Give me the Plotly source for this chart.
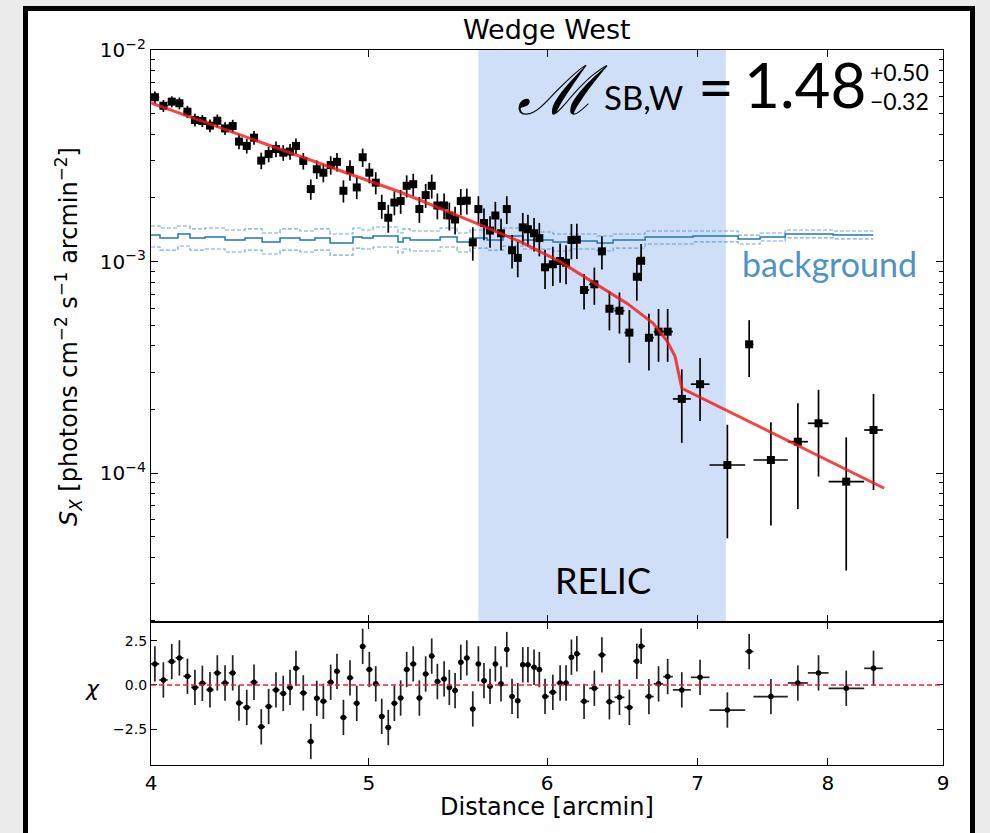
import math
import plotly.graph_objects as go

# ---------------------------------------------------------------- data
# radial distance of each bin centre [arcmin]
distance = [
    4.016, 4.051, 4.086, 4.118, 4.152, 4.184, 4.216, 4.249, 4.281, 4.315,
    4.349, 4.377, 4.412, 4.445, 4.478, 4.512, 4.546, 4.580, 4.612, 4.640,
    4.675, 4.711, 4.740, 4.772, 4.808, 4.839, 4.871, 4.904, 4.938, 4.968,
    5.002, 5.035, 5.066, 5.100, 5.132, 5.165, 5.197, 5.232, 5.265, 5.299,
    5.332, 5.363, 5.400, 5.429, 5.461, 5.493, 5.527, 5.561, 5.593, 5.625,
    5.660, 5.691, 5.724, 5.758, 5.789, 5.823, 5.853, 5.884, 5.921, 5.953,
    5.988, 6.036, 6.081, 6.118, 6.152, 6.186, 6.232, 6.298, 6.347, 6.396,
    6.462, 6.528, 6.578, 6.607, 6.660, 6.726, 6.789, 6.888, 7.018, 7.217,
    7.380, 7.546, 7.757, 7.923, 8.151, 8.382,
]

# bin edges [arcmin]
bin_edges = [
    4.000, 4.034, 4.069, 4.102, 4.135, 4.168, 4.200, 4.233, 4.265, 4.298,
    4.332, 4.363, 4.395, 4.429, 4.462, 4.495, 4.529, 4.563, 4.596, 4.626,
    4.658, 4.693, 4.726, 4.756, 4.790, 4.824, 4.855, 4.888, 4.921, 4.953,
    4.985, 5.019, 5.051, 5.083, 5.116, 5.149, 5.181, 5.215, 5.249, 5.282,
    5.316, 5.348, 5.382, 5.415, 5.445, 5.477, 5.510, 5.544, 5.577, 5.609,
    5.643, 5.676, 5.708, 5.741, 5.774, 5.806, 5.838, 5.869, 5.903, 5.937,
    5.971, 6.012, 6.059, 6.100, 6.135, 6.169, 6.209, 6.265, 6.323, 6.372,
    6.429, 6.495, 6.553, 6.593, 6.634, 6.693, 6.758, 6.825, 6.952, 7.086,
    7.350, 7.412, 7.678, 7.837, 8.005, 8.302, 8.462,
]

# surface brightness [photons cm^-2 s^-1 arcmin^-2]
surface_brightness = [
    5.98e-3, 5.45e-3, 5.70e-3, 5.60e-3, 5.11e-3, 4.67e-3, 4.62e-3, 4.39e-3, 4.63e-3, 4.26e-3,
    4.37e-3, 3.69e-3, 3.52e-3, 3.85e-3, 3.00e-3, 3.22e-3, 3.40e-3, 3.27e-3, 3.31e-3, 3.52e-3,
    2.99e-3, 2.20e-3, 2.73e-3, 2.63e-3, 2.86e-3, 2.96e-3, 2.16e-3, 2.71e-3, 2.24e-3, 3.11e-3,
    2.63e-3, 2.36e-3, 1.83e-3, 1.61e-3, 1.90e-3, 1.93e-3, 2.28e-3, 2.32e-3, 1.77e-3, 2.06e-3,
    2.28e-3, 1.84e-3, 1.84e-3, 1.65e-3, 1.58e-3, 1.93e-3, 1.94e-3, 1.23e-3, 1.77e-3, 1.52e-3,
    1.40e-3, 1.65e-3, 1.36e-3, 1.77e-3, 1.13e-3, 1.04e-3, 1.45e-3, 1.42e-3, 1.36e-3, 1.29e-3,
    9.39e-4, 9.70e-4, 1.005e-3, 9.87e-4, 1.264e-3, 1.268e-3, 7.33e-4, 7.80e-4, 1.117e-3, 5.98e-4,
    5.85e-4, 4.61e-4, 8.47e-4, 1.008e-3, 4.36e-4, 4.66e-4, 4.66e-4, 2.24e-4, 2.63e-4, 1.091e-4,
    4.06e-4, 1.152e-4, 1.406e-4, 1.718e-4, 9.10e-5, 1.597e-4,
]

# 1-sigma uncertainty as a fraction of the surface brightness
relative_error = [
    0.065, 0.065, 0.06, 0.065, 0.065, 0.07, 0.065, 0.07, 0.07, 0.07,
    0.07, 0.08, 0.08, 0.075, 0.09, 0.085, 0.085, 0.085, 0.085, 0.085,
    0.09, 0.11, 0.10, 0.10, 0.10, 0.10, 0.12, 0.11, 0.12, 0.10,
    0.11, 0.12, 0.13, 0.15, 0.13, 0.13, 0.12, 0.12, 0.14, 0.13,
    0.13, 0.14, 0.14, 0.15, 0.15, 0.14, 0.14, 0.18, 0.15, 0.17,
    0.17, 0.16, 0.17, 0.15, 0.18, 0.19, 0.17, 0.17, 0.18, 0.18,
    0.21, 0.21, 0.21, 0.21, 0.19, 0.19, 0.19, 0.20, 0.18, 0.21,
    0.22, 0.28, 0.23, 0.20, 0.30, 0.28, 0.28, 0.38, 0.33, 0.55,
    0.30, 0.51, 0.52, 0.44, 0.62, 0.48,
]

# fit residuals (data - model) / sigma
chi = [
    1.19, 0.28, 1.32, 1.53, 0.49, -0.14, 0.09, -0.27, 0.68, 0.11,
    0.68, -1.02, -1.27, 0.15, -2.37, -1.22, -0.28, -0.48, -0.14, 0.94,
    -0.45, -3.20, -0.76, -0.93, 0.15, 0.77, -1.84, 0.40, -1.04, 2.18,
    0.87, 0.06, -1.78, -2.41, -1.04, -0.74, 0.87, 1.19, -0.74, 0.62,
    1.63, 0.19, 0.34, -0.14, -0.32, 1.28, 1.53, -1.36, 1.19, 0.24,
    -0.08, 1.19, 0.06, 2.00, -0.65, -0.89, 1.14, 1.14, 1.00, 0.87,
    -0.65, -0.42, 0.11, 0.11, 1.57, 1.76, -0.93, -0.19, 1.70, -0.95,
    -0.70, -1.27, 1.34, 2.19, -0.66, 0.06, 0.47, -0.28, 0.43, -1.42,
    1.89, -0.66, 0.11, 0.68, -0.19, 0.94,
]

# best-fit broken power-law model (projected)
model_distance = [4.000, 4.426, 4.854, 5.162, 5.545, 5.837, 6.081, 6.290,
                  6.513, 6.689, 6.785, 6.841, 6.888, 8.474]
model_sx = [5.616e-3, 3.836e-3, 2.708e-3, 2.131e-3, 1.559e-3, 1.241e-3, 9.98e-4,
            8.02e-4, 6.34e-4, 5.10e-4, 4.21e-4, 3.55e-4, 2.515e-4, 8.47e-5]

# sky + particle background level and its 1-sigma envelope, in units of 1e-3
BKG_UNIT = 1e-3
bkg_edges = [4.000, 4.037, 4.112, 4.163, 4.228, 4.315, 4.404, 4.482, 4.565, 4.659,
             4.731, 4.805, 4.919, 4.965, 5.021, 5.151, 5.178, 5.215, 5.378, 5.472,
             5.545, 5.643, 5.736, 5.855, 6.037, 6.144, 6.316, 6.420, 6.634, 6.968,
             7.297, 7.463, 7.657, 8.043, 8.380]
bkg_level = [1.334, 1.292, 1.349, 1.292, 1.306, 1.264, 1.292, 1.237, 1.292, 1.264,
             1.292, 1.223, 1.306, 1.292, 1.320, 1.237, 1.292, 1.264, 1.306, 1.237,
             1.292, 1.264, 1.320, 1.264, 1.237, 1.250, 1.223, 1.264, 1.306, 1.320,
             1.278, 1.306, 1.349, 1.334]
bkg_upper = [1.472, 1.440, 1.472, 1.425, 1.440, 1.409, 1.425, 1.364, 1.425, 1.394,
             1.425, 1.349, 1.440, 1.409, 1.456, 1.364, 1.425, 1.394, 1.440, 1.364,
             1.409, 1.379, 1.440, 1.379, 1.349, 1.349, 1.320, 1.349, 1.394, 1.394,
             1.334, 1.364, 1.409, 1.394]
bkg_lower = [1.171, 1.133, 1.184, 1.133, 1.146, 1.109, 1.133, 1.085, 1.133, 1.109,
             1.133, 1.073, 1.158, 1.146, 1.171, 1.097, 1.146, 1.121, 1.171, 1.109,
             1.158, 1.133, 1.184, 1.146, 1.121, 1.146, 1.121, 1.158, 1.210, 1.237,
             1.210, 1.250, 1.292, 1.278]

# shock / relic region [arcmin]
relic_range = [5.593, 7.206]

x_ticks = [4, 5, 6, 7, 8, 9]
y_ticks = [1e-4, 1e-3, 1e-2]
y_ticktext = ["10<sup>−4</sup>", "10<sup>−3</sup>", "10<sup>−2</sup>"]
chi_ticks = [-2.5, 0.0, 2.5]
chi_ticktext = ["−2.5", "0.0", "2.5"]

# ---------------------------------------------------------------- derived
x_minus = [d - bin_edges[i] for i, d in enumerate(distance)]
x_plus = [bin_edges[i + 1] - d for i, d in enumerate(distance)]
sigma = [s * r for s, r in zip(surface_brightness, relative_error)]
chi_err = [1.0] * len(chi)


def steps(values):
    v = [b * BKG_UNIT for b in values]
    return v + [v[-1]]


FONT = "DejaVu Sans"
W, H = 990, 833
ML, MR, MT, MB = 151, 47, 50, 68
PW, PH = W - ML - MR, H - MT - MB


def px(xp):
    return (xp - ML) / PW


def py(yp):
    return (H - MB - yp) / PH


fig = go.Figure()

# background envelope and level
for vals, dash, color, width in [
    (bkg_upper, "4px,2px", "rgba(70,140,200,0.75)", 1.2),
    (bkg_lower, "4px,2px", "rgba(70,140,200,0.75)", 1.2),
    (bkg_level, "solid", "#1f77b4", 1.5),
]:
    fig.add_trace(go.Scatter(
        x=bkg_edges, y=steps(vals), mode="lines", line_shape="hv",
        line=dict(color=color, width=width, dash=dash),
        xaxis="x", yaxis="y", hoverinfo="skip", showlegend=False))

# surface-brightness profile
fig.add_trace(go.Scatter(
    x=distance, y=surface_brightness, mode="markers",
    marker=dict(symbol="square", size=8, color="black"),
    error_y=dict(type="data", array=sigma, arrayminus=sigma, color="black",
                 thickness=1.7, width=0),
    error_x=dict(type="data", array=x_plus, arrayminus=x_minus, color="black",
                 thickness=1.7, width=0),
    xaxis="x", yaxis="y", showlegend=False))

# model
fig.add_trace(go.Scatter(
    x=model_distance, y=model_sx, mode="lines",
    line=dict(color="rgba(245,20,20,0.8)", width=3),
    xaxis="x", yaxis="y", showlegend=False))

# residuals
fig.add_trace(go.Scatter(
    x=distance, y=chi, mode="markers",
    marker=dict(symbol="circle", size=5.5, color="black"),
    error_y=dict(type="data", array=chi_err, color="#222222", thickness=1.7, width=0),
    error_x=dict(type="data", array=x_plus, arrayminus=x_minus, color="#222222",
                 thickness=1.7, width=0),
    xaxis="x2", yaxis="y2", showlegend=False))

axis_common = dict(showline=True, linecolor="black", linewidth=1.2, mirror="allticks",
                   ticks="inside", tickcolor="black", showgrid=False, zeroline=False,
                   automargin=False, tickfont=dict(family=FONT, size=20, color="black"))

xr = [math.log10(4), math.log10(9)]

fig.update_layout(
    width=W, height=H,
    margin=dict(l=ML, r=MR, t=MT, b=MB),
    paper_bgcolor="#ebebeb", plot_bgcolor="white",
    xaxis=dict(type="log", range=xr, domain=[0, 1], anchor="y", tickvals=x_ticks,
               showticklabels=False, ticklen=7, **axis_common),
    yaxis=dict(type="log", range=[-4.7045, -2], domain=[0.2, 1], anchor="x",
               tickvals=y_ticks, ticktext=y_ticktext, ticklen=7,
               minor=dict(ticks="inside", ticklen=3.5, tickcolor="black",
                          tickvals=[m * 10 ** e for e in (-5, -4, -3) for m in range(2, 10)],
                          showgrid=False),
               **axis_common),
    xaxis2=dict(type="log", range=xr, domain=[0, 1], anchor="y2", matches="x",
                tickvals=x_ticks, ticktext=[str(t) for t in x_ticks], ticklen=7,
                **axis_common),
    yaxis2=dict(range=[-4.53, 3.56], domain=[0, 0.2], anchor="x2",
                tickvals=chi_ticks, ticktext=chi_ticktext, ticklen=6,
                **{**axis_common, "tickfont": dict(family=FONT, size=14, color="black")}),
)

shapes = [
    # white page with heavy border
    dict(type="rect", xref="paper", yref="paper", layer="below",
         x0=px(25.5), x1=px(972.5), y0=py(850), y1=py(8.5),
         fillcolor="white", line=dict(color="black", width=5)),
    # relic region
    dict(type="rect", xref="x", yref="y domain", layer="below",
         x0=relic_range[0], x1=relic_range[1], y0=0, y1=1,
         fillcolor="#cfdff8", line=dict(width=0)),
    # chi = 0
    dict(type="line", xref="x2 domain", yref="y2", x0=0, x1=1, y0=0, y1=0,
         line=dict(color="#ff1a1a", width=1.5, dash="5px,3px")),
]
fig.update_layout(shapes=shapes)


def note(text, x, y, size, family=FONT, color="black", **kw):
    fig.add_annotation(text=text, xref="paper", yref="paper", x=px(x), y=py(y),
                       showarrow=False, xanchor=kw.pop("xanchor", "center"),
                       yanchor=kw.pop("yanchor", "middle"),
                       font=dict(family=family, size=size, color=color), **kw)


note("Wedge West", 547, 29, 27)
note("Distance [arcmin]", 547, 807, 24)
note("<i>S</i><sub><i>X</i></sub> [photons cm<sup>−2</sup> s<sup>−1</sup> arcmin<sup>−2</sup>]",
     68, 337, 24, textangle=-90)
note("<i>χ</i>", 92, 688, 22)

note("<i>ℳ</i>", 562, 90, 68, family="DejaVu Serif")
note("SB,W", 643, 97, 33, family="Lato")
note("=", 716, 86, 62, family="Lato")
note("1.48", 805, 84, 62, family="Lato")
note("+0.50", 899, 72, 23, family="Lato")
note("−0.32", 899, 101, 23, family="Lato")
note("background", 829, 263, 34, family="Lato", color="#4f92c4")
note("RELIC", 603, 580, 36, family="Lato")

fig.write_html("out.html")
